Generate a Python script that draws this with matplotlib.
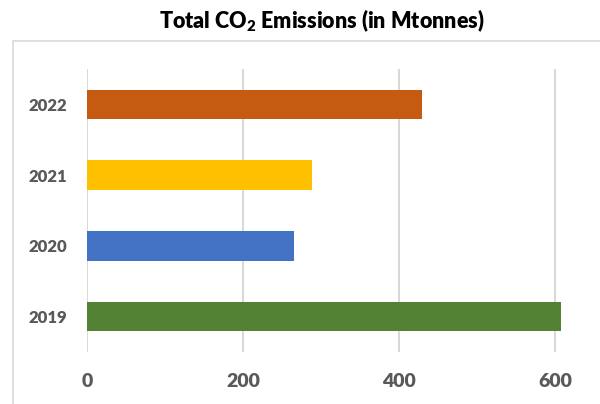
import matplotlib
matplotlib.use('Agg')

import matplotlib.pyplot as plt
from matplotlib.patches import Rectangle

# data
years = ['2019', '2020', '2021', '2022']
emissions = [608, 265, 289, 430]
bar_colors = ['#548235', '#4472C4', '#FFC000', '#C55A11']
x_ticks = [0, 200, 400, 600]

plt.rcParams['font.family'] = ['Lato', 'DejaVu Sans']
plt.rcParams['mathtext.fontset'] = 'custom'
plt.rcParams['mathtext.rm'] = 'Lato:heavy'
plt.rcParams['mathtext.bf'] = 'Lato:heavy'

W, H = 600, 404
fig = plt.figure(figsize=(6, 4.04), dpi=100, facecolor='white')

# chart border (cut off on right and bottom like the screenshot)
fig.patches.append(Rectangle((13 / W, -0.2), 1.2, (H - 41) / H + 0.2,
                             transform=fig.transFigure, fill=False,
                             edgecolor='#d9d9d9', linewidth=1.2))

ax = fig.add_axes([87 / W, (H - 352) / H, 546 / W, 283 / H])
ax.barh(years, emissions, height=0.42, color=bar_colors, zorder=3)

ax.set_xlim(0, 700)
ax.set_ylim(-0.5, 3.5)
ax.set_xticks(x_ticks)
ax.grid(axis='x', color='#d9d9d9', linewidth=1.5, zorder=0)
ax.grid(axis='y', visible=False)
for s in ax.spines.values():
    s.set_visible(False)

ax.tick_params(axis='x', length=0, pad=15, labelsize=14, labelcolor='#595959')
ax.tick_params(axis='y', length=0, pad=14, labelsize=12, labelcolor='#595959')
for lbl in ax.get_xticklabels() + ax.get_yticklabels():
    lbl.set_fontweight('heavy')

fig.text(322 / W, 1 - 21 / H, r'Total CO$_{\mathbf{2}}$ Emissions (in Mtonnes)',
         ha='center', va='center', fontsize=15.5, fontweight='heavy', color='black')

fig.savefig('out.png', dpi=100, facecolor='white')
